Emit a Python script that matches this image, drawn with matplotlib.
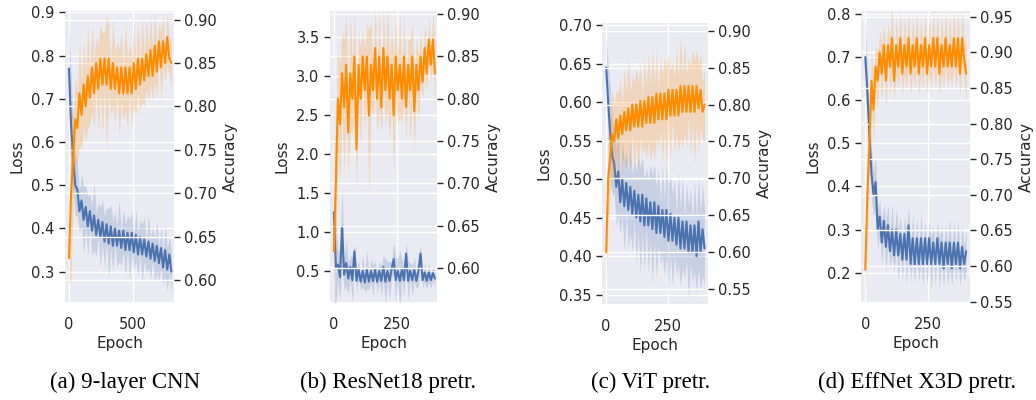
import numpy as np
import matplotlib
matplotlib.use("Agg")
import matplotlib.pyplot as plt
import seaborn as sns

BLUE = "#4C72B0"
ORANGE = "#FF8C00"

captions = ["(a) 9-layer CNN", "(b) ResNet18 pretr.", "(c) ViT pretr.", "(d) EffNet X3D pretr."]

# (a) 9-layer CNN, 800 epochs
cnn_epochs = np.linspace(0, 800, 50)
cnn_loss = [0.77, 0.64, 0.56, 0.50, 0.49, 0.44, 0.465, 0.42, 0.45, 0.405, 0.44, 0.395, 0.43, 0.385, 0.42,
            0.38, 0.415, 0.37, 0.41, 0.365, 0.405, 0.36, 0.40, 0.36, 0.395, 0.355, 0.395, 0.35, 0.39, 0.35,
            0.39, 0.345, 0.385, 0.34, 0.38, 0.34, 0.375, 0.335, 0.37, 0.33, 0.365, 0.325, 0.36, 0.32, 0.355,
            0.31, 0.35, 0.305, 0.34, 0.30]
cnn_loss_sd = [0.10, 0.12, 0.08, 0.07, 0.06, 0.05, 0.06, 0.08, 0.05, 0.07, 0.04, 0.06, 0.08, 0.05, 0.04,
               0.07, 0.05, 0.06, 0.04, 0.08, 0.05, 0.06, 0.04, 0.05, 0.07, 0.04, 0.05, 0.06, 0.04, 0.07,
               0.05, 0.04, 0.06, 0.05, 0.04, 0.07, 0.05, 0.04, 0.06, 0.05, 0.04, 0.05, 0.06, 0.04, 0.05,
               0.04, 0.06, 0.05, 0.04, 0.05]
cnn_acc = [0.625, 0.70, 0.74, 0.785, 0.775, 0.815, 0.79, 0.825, 0.80, 0.835, 0.81, 0.845, 0.815, 0.85, 0.82,
           0.855, 0.825, 0.855, 0.825, 0.855, 0.82, 0.85, 0.82, 0.845, 0.815, 0.845, 0.815, 0.845, 0.815, 0.845,
           0.815, 0.85, 0.82, 0.855, 0.825, 0.855, 0.83, 0.86, 0.835, 0.865, 0.835, 0.87, 0.84, 0.875, 0.845,
           0.875, 0.85, 0.88, 0.855, 0.85]
cnn_acc_sd = [0.03, 0.10, 0.05, 0.05, 0.04, 0.06, 0.04, 0.05, 0.04, 0.06, 0.03, 0.05, 0.04, 0.03, 0.05,
              0.04, 0.06, 0.03, 0.08, 0.04, 0.03, 0.05, 0.04, 0.03, 0.05, 0.04, 0.03, 0.05, 0.04, 0.03,
              0.04, 0.05, 0.03, 0.04, 0.03, 0.05, 0.03, 0.04, 0.03, 0.04, 0.03, 0.04, 0.03, 0.02, 0.04,
              0.03, 0.02, 0.03, 0.02, 0.03]

# (b) ResNet18 pretrained, 400 epochs
res_epochs = np.linspace(0, 400, 50)
res_loss = [1.25, 0.55, 0.58, 0.42, 1.07, 0.45, 0.60, 0.40, 0.55, 0.38, 0.75, 0.37, 0.52, 0.36, 0.50,
            0.35, 0.52, 0.36, 0.50, 0.37, 0.52, 0.36, 0.50, 0.37, 0.55, 0.36, 0.50, 0.37, 0.52, 0.65,
            0.38, 0.50, 0.37, 0.52, 0.38, 0.72, 0.37, 0.50, 0.38, 0.52, 0.37, 0.50, 0.72, 0.38, 0.48,
            0.37, 0.48, 0.38, 0.47, 0.40]
res_loss_sd = [2.4, 0.5, 0.2, 0.3, 0.5, 0.2, 0.3, 0.2, 0.15, 0.3, 0.1, 0.15, 0.12, 0.1, 0.2,
               0.12, 0.25, 0.1, 0.15, 0.2, 0.1, 0.15, 0.12, 0.2, 0.15, 0.3, 0.12, 0.25, 0.1, 0.2,
               0.3, 0.15, 0.4, 0.12, 0.2, 0.15, 0.25, 0.1, 0.2, 0.15, 0.1, 0.2, 0.12, 0.1, 0.12,
               0.1, 0.12, 0.1, 0.1, 0.1]
res_acc = [0.62, 0.70, 0.80, 0.77, 0.83, 0.79, 0.84, 0.76, 0.83, 0.80, 0.85, 0.74, 0.84, 0.80, 0.85,
           0.81, 0.85, 0.78, 0.84, 0.81, 0.86, 0.80, 0.85, 0.79, 0.86, 0.81, 0.85, 0.80, 0.84, 0.78,
           0.85, 0.81, 0.84, 0.80, 0.85, 0.79, 0.84, 0.81, 0.85, 0.785, 0.84, 0.81, 0.85, 0.82, 0.86,
           0.83, 0.87, 0.84, 0.87, 0.83]
res_acc_sd = [0.04, 0.08, 0.06, 0.07, 0.05, 0.08, 0.06, 0.05, 0.07, 0.04, 0.06, 0.05, 0.04, 0.06, 0.03,
              0.05, 0.04, 0.10, 0.05, 0.03, 0.05, 0.04, 0.06, 0.03, 0.05, 0.04, 0.06, 0.05, 0.04, 0.07,
              0.05, 0.04, 0.06, 0.03, 0.05, 0.04, 0.03, 0.06, 0.04, 0.05, 0.03, 0.04, 0.03, 0.02, 0.03,
              0.02, 0.03, 0.02, 0.03, 0.04]

# (c) ViT pretrained, 400 epochs
vit_epochs = np.linspace(0, 400, 50)
vit_loss = [0.645, 0.60, 0.56, 0.53, 0.52, 0.49, 0.51, 0.47, 0.50, 0.465, 0.495, 0.46, 0.49, 0.455, 0.485,
            0.45, 0.48, 0.445, 0.48, 0.44, 0.475, 0.44, 0.47, 0.435, 0.47, 0.43, 0.465, 0.43, 0.46, 0.425,
            0.46, 0.42, 0.455, 0.42, 0.45, 0.415, 0.45, 0.41, 0.445, 0.41, 0.445, 0.405, 0.44, 0.405, 0.44,
            0.40, 0.445, 0.405, 0.435, 0.41]
vit_loss_sd = [0.04, 0.05, 0.06, 0.05, 0.04, 0.05, 0.06, 0.04, 0.05, 0.06, 0.04, 0.05, 0.06, 0.05, 0.04,
               0.06, 0.05, 0.07, 0.05, 0.06, 0.04, 0.06, 0.05, 0.07, 0.05, 0.06, 0.05, 0.04, 0.06, 0.05,
               0.06, 0.07, 0.05, 0.06, 0.05, 0.04, 0.06, 0.05, 0.06, 0.04, 0.05, 0.06, 0.05, 0.04, 0.06,
               0.05, 0.06, 0.05, 0.06, 0.05]
vit_acc = [0.60, 0.70, 0.73, 0.76, 0.75, 0.78, 0.755, 0.785, 0.76, 0.79, 0.765, 0.795, 0.765, 0.80, 0.77,
           0.80, 0.77, 0.805, 0.77, 0.805, 0.775, 0.81, 0.775, 0.81, 0.775, 0.815, 0.78, 0.815, 0.78, 0.815,
           0.78, 0.82, 0.785, 0.82, 0.785, 0.82, 0.785, 0.825, 0.79, 0.825, 0.79, 0.825, 0.79, 0.825, 0.79,
           0.825, 0.795, 0.82, 0.79, 0.80]
vit_acc_sd = [0.05, 0.06, 0.05, 0.06, 0.05, 0.04, 0.06, 0.05, 0.04, 0.06, 0.05, 0.07, 0.05, 0.04, 0.06,
              0.05, 0.06, 0.05, 0.04, 0.06, 0.05, 0.06, 0.05, 0.07, 0.05, 0.06, 0.04, 0.05, 0.06, 0.05,
              0.07, 0.05, 0.06, 0.04, 0.05, 0.06, 0.05, 0.07, 0.05, 0.06, 0.05, 0.04, 0.06, 0.05, 0.07,
              0.05, 0.06, 0.05, 0.04, 0.05]

# (d) EffNet X3D pretrained, 400 epochs
eff_epochs = np.linspace(0, 400, 50)
eff_loss = [0.70, 0.62, 0.52, 0.43, 0.38, 0.41, 0.30, 0.33, 0.27, 0.32, 0.26, 0.31, 0.25, 0.30, 0.24,
            0.30, 0.24, 0.29, 0.23, 0.29, 0.23, 0.31, 0.22, 0.28, 0.22, 0.28, 0.22, 0.28, 0.22, 0.28,
            0.22, 0.28, 0.22, 0.27, 0.22, 0.28, 0.22, 0.27, 0.21, 0.27, 0.22, 0.27, 0.21, 0.27, 0.22,
            0.27, 0.21, 0.26, 0.22, 0.25]
eff_loss_sd = [0.08, 0.06, 0.05, 0.06, 0.05, 0.06, 0.05, 0.04, 0.05, 0.04, 0.06, 0.05, 0.04, 0.06, 0.04,
               0.05, 0.06, 0.04, 0.05, 0.04, 0.06, 0.05, 0.04, 0.06, 0.04, 0.05, 0.04, 0.06, 0.05, 0.04,
               0.05, 0.04, 0.06, 0.04, 0.05, 0.04, 0.06, 0.04, 0.05, 0.04, 0.05, 0.06, 0.04, 0.05, 0.04,
               0.05, 0.04, 0.05, 0.04, 0.05]
eff_acc = [0.595, 0.70, 0.77, 0.86, 0.82, 0.88, 0.86, 0.90, 0.87, 0.91, 0.86, 0.91, 0.88, 0.92, 0.86,
           0.91, 0.88, 0.92, 0.87, 0.91, 0.88, 0.92, 0.87, 0.91, 0.88, 0.92, 0.87, 0.91, 0.88, 0.92,
           0.87, 0.91, 0.88, 0.92, 0.88, 0.92, 0.87, 0.91, 0.88, 0.92, 0.88, 0.91, 0.88, 0.92, 0.88,
           0.92, 0.87, 0.92, 0.89, 0.87]
eff_acc_sd = [0.04, 0.06, 0.05, 0.04, 0.05, 0.03, 0.04, 0.03, 0.04, 0.03, 0.04, 0.03, 0.04, 0.05, 0.03,
              0.04, 0.03, 0.04, 0.03, 0.04, 0.03, 0.04, 0.03, 0.04, 0.03, 0.04, 0.03, 0.04, 0.03, 0.04,
              0.03, 0.04, 0.03, 0.04, 0.03, 0.04, 0.03, 0.04, 0.03, 0.04, 0.03, 0.04, 0.03, 0.04, 0.03,
              0.04, 0.03, 0.04, 0.03, 0.04]

W, H = 1036, 400

sns.set_theme(style="darkgrid")
plt.rcParams["font.family"] = ["DejaVu Sans"]
plt.rcParams["font.size"] = 10.5
plt.rcParams["axes.labelsize"] = 11
plt.rcParams["xtick.labelsize"] = 10.5
plt.rcParams["ytick.labelsize"] = 10.5


def draw_panel(fig, box, epochs, loss, loss_sd, acc, acc_sd, xlim, loss_lim, loss_ticks,
               acc_lim, acc_ticks, xticks):
    left, top, right, bottom = box
    ax = fig.add_axes([left / W, 1 - bottom / H, (right - left) / W, (bottom - top) / H])
    loss = np.array(loss)
    loss_sd = np.array(loss_sd)
    acc = np.array(acc)
    acc_sd = np.array(acc_sd)

    ax.fill_between(epochs, loss - loss_sd, loss + loss_sd, color=BLUE, alpha=0.22, linewidth=0)
    ax.plot(epochs, loss, color=BLUE, linewidth=1.5)
    ax.set_xlim(*xlim)
    ax.set_ylim(*loss_lim)
    ax.set_yticks(loss_ticks)
    ax.set_xticks(xticks)
    ax.set_xlabel("Epoch", labelpad=3)
    ax.set_ylabel("Loss", labelpad=5)
    ax.tick_params(axis="y", left=True, length=4.5, width=1, color="0.15", pad=3)
    ax.tick_params(axis="x", bottom=False, pad=5)

    ax2 = ax.twinx()
    ax2.fill_between(epochs, acc - acc_sd, acc + acc_sd, color=ORANGE, alpha=0.22, linewidth=0)
    ax2.plot(epochs, acc, color=ORANGE, linewidth=1.5)
    ax2.set_ylim(*acc_lim)
    ax2.set_yticks(acc_ticks)
    ax2.set_ylabel("Accuracy", labelpad=4)
    ax2.tick_params(axis="y", right=True, length=4.5, width=1, color="0.15", pad=3)
    for a in (ax, ax2):
        for s in a.spines.values():
            s.set_visible(False)


fig = plt.figure(figsize=(W / 100, H / 100), dpi=100)

draw_panel(fig, (65, 11, 174, 302), cnn_epochs, cnn_loss, cnn_loss_sd, cnn_acc, cnn_acc_sd,
           (-31, 820), (0.23, 0.903), np.arange(0.3, 0.95, 0.1),
           (0.5745, 0.910), np.arange(0.60, 0.91, 0.05), [0, 500])
draw_panel(fig, (330, 11, 437, 302), res_epochs, res_loss, res_loss_sd, res_acc, res_acc_sd,
           (-15, 408), (0.10, 3.83), np.arange(0.5, 3.6, 0.5),
           (0.560, 0.9036), np.arange(0.60, 0.91, 0.05), [0, 250])
draw_panel(fig, (602, 23, 708, 304), vit_epochs, vit_loss, vit_loss_sd, vit_acc, vit_acc_sd,
           (-17, 414), (0.338, 0.7026), np.arange(0.35, 0.71, 0.05),
           (0.530, 0.9104), np.arange(0.55, 0.91, 0.05), [0, 250])
draw_panel(fig, (861, 11, 970, 302), eff_epochs, eff_loss, eff_loss_sd, eff_acc, eff_acc_sd,
           (-17, 415), (0.132, 0.807), np.arange(0.2, 0.85, 0.1),
           (0.5496, 0.958), np.arange(0.55, 0.96, 0.05), [0, 250])

for cx, text in zip([125, 388, 651, 917], captions):
    fig.text(cx / W, 1 - 382 / H, text, ha="center", va="center",
             fontfamily="Liberation Serif", fontsize=16.5, color="black")

fig.savefig("out.png", dpi=100, facecolor="white")
